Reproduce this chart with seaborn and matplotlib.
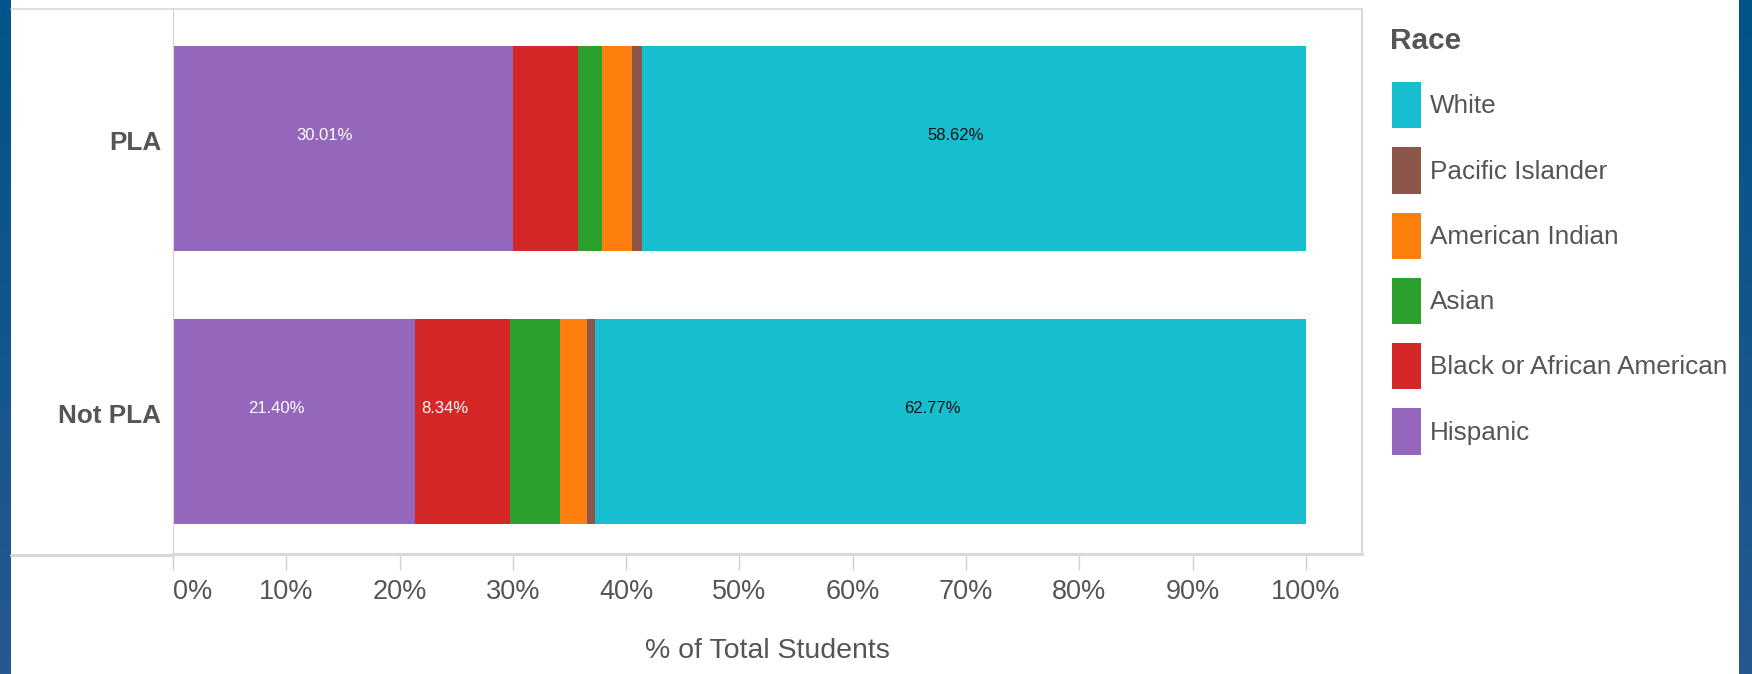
import numpy as np
import pandas as pd
import matplotlib
matplotlib.use("Agg")
import matplotlib.pyplot as plt
import matplotlib.transforms as mtransforms
from matplotlib.patches import Patch
from matplotlib.lines import Line2D
import seaborn as sns

# ── data ─────────────────────────────────────────────────────
groups = ["PLA", "Not PLA"]
races = ["Hispanic", "Black or African American", "Asian",
         "American Indian", "Pacific Islander", "White"]
hispanic         = [30.01, 21.40]
black            = [5.74, 8.34]
asian            = [2.12, 4.45]
american_indian  = [2.65, 2.35]
pacific_islander = [0.86, 0.69]
white            = [58.62, 62.77]

race_colors = ["#9467bd", "#d62728", "#2ca02c", "#ff7f0e", "#8c564b", "#17becf"]
label_colors = ["white", "white", "white", "white", "white", "#111111"]
x_ticks = [0, 10, 20, 30, 40, 50, 60, 70, 80, 90, 100]

# ── style ────────────────────────────────────────────────────
sns.set_style("white")
plt.rcParams["font.family"] = ["Liberation Sans", "DejaVu Sans"]
GREY_TXT = "#555555"
GREY_LN = "#d9d9d9"

df = pd.DataFrame({"group": groups, "Hispanic": hispanic,
                   "Black or African American": black, "Asian": asian,
                   "American Indian": american_indian,
                   "Pacific Islander": pacific_islander, "White": white})
cum = df[races].cumsum(axis=1)

W, H = 1752, 674
fig = plt.figure(figsize=(W / 100, H / 100), dpi=100)
fig.patch.set_facecolor("white")
ax = fig.add_axes([173 / W, 1 - 554 / H, (1362 - 173) / W, (554 - 9) / H])

# stacked bars: draw cumulative totals from the outermost segment inward
for race, col in reversed(list(zip(races, race_colors))):
    sns.barplot(x=cum[race], y=df["group"], orient="h", color=col,
                saturation=1, width=0.75, linewidth=0, errorbar=None, ax=ax)

# value labels for the wider segments
for race, lc in zip(races, label_colors):
    for i, g in enumerate(groups):
        v = df.loc[i, race]
        if v < 8:
            continue
        ax.annotate(f"{v:.2f}%", xy=(cum.loc[i, race] - v / 2, i),
                    xytext=(-13, 9.5), textcoords="offset points",
                    ha="center", va="center", fontsize=12, color=lc)

ax.set_xlim(0, 104.95)
ax.set_ylim(1.485, -0.511)
ax.set_xticks(x_ticks)
ax.set_xticklabels([f"{t}%" for t in x_ticks])
ax.get_xticklabels()[0].set_ha("left")
ax.set_ylabel("")
ax.set_xlabel("% of Total Students", fontsize=20.5, color=GREY_TXT, labelpad=24)

ax.tick_params(axis="x", length=11.5, width=1, color="#d0d0d0", pad=6.5,
               labelsize=19.5, labelcolor=GREY_TXT, bottom=True)
ax.tick_params(axis="y", length=0, pad=8.6, labelsize=18.8, labelcolor=GREY_TXT)
for lab in ax.get_yticklabels():
    lab.set_fontweight("bold")
    lab.set_transform(lab.get_transform() +
                      mtransforms.ScaledTranslation(0, 5.8 / 72, fig.dpi_scale_trans))

ax.spines["top"].set(color=GREY_LN, linewidth=1.2)
ax.spines["bottom"].set(color=GREY_LN, linewidth=2.2)
ax.spines["right"].set(color=GREY_LN, linewidth=1.5)
ax.spines["left"].set(color="#d4d4d4", linewidth=0.8)

# the frame continues left under the row headers
fig.add_artist(Line2D([11 / W, 173 / W], [1 - 9 / H] * 2, color=GREY_LN, lw=1.2))
fig.add_artist(Line2D([11 / W, 173 / W], [1 - 554.5 / H] * 2, color=GREY_LN, lw=2.2))

# ── legend ───────────────────────────────────────────────────
fig.text(1390 / W, 1 - 41 / H, "Race", fontsize=21.5, fontweight="bold",
         color=GREY_TXT, ha="left", va="center")
handles = [Patch(facecolor=c, edgecolor="none") for c in race_colors][::-1]
leg = fig.legend(handles, races[::-1], loc="upper left",
                 bbox_to_anchor=(1392 / W, 1 - 82 / H), frameon=False,
                 fontsize=18.8, handlelength=1.11, handleheight=2.36,
                 handletextpad=0.34, labelspacing=0.72, borderpad=0,
                 borderaxespad=0, labelcolor=GREY_TXT)

# ── blue page strips ─────────────────────────────────────────
grad = np.linspace(0, 1, 256)[:, None, None]
top_c = np.array([0, 84, 138]) / 255
bot_c = np.array([38, 88, 145]) / 255
img = top_c * (1 - grad) + bot_c * grad
for x0, w in [(0, 11), (1739, 13)]:
    sax = fig.add_axes([x0 / W, 0, w / W, 1])
    sax.imshow(img, aspect="auto")
    sax.axis("off")

fig.savefig("out.png", dpi=100)
